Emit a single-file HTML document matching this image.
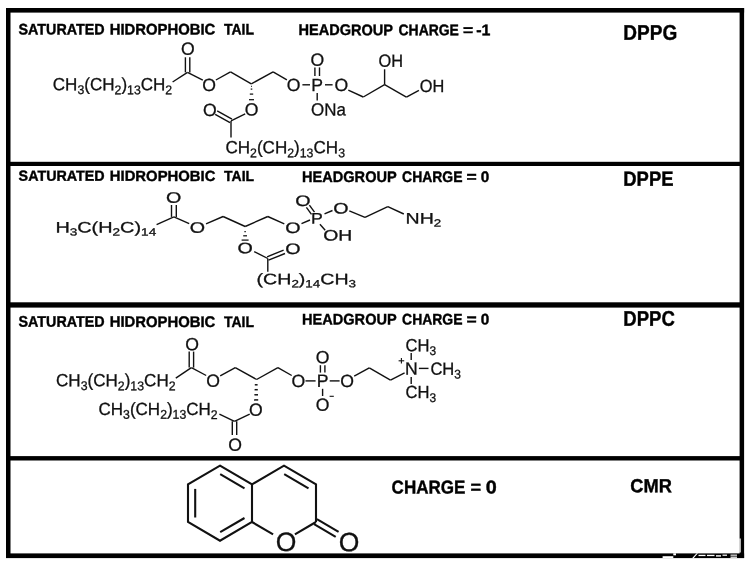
<!DOCTYPE html>
<html lang="en"><head><meta charset="utf-8"><title>Lipid structures</title>
<style>
html,body{margin:0;padding:0;background:#fff;}
svg{display:block;will-change:transform;}
text{font-family:"Liberation Sans",sans-serif;fill:#111;stroke:#111;stroke-width:0.3px;}
text.h{font-weight:bold;fill:#000;stroke:#000;stroke-width:0.4px;}
</style></head><body>
<svg width="752" height="566" viewBox="0 0 752 566">
<rect width="752" height="566" fill="#fff"/>
<g fill="#000" stroke="none">
<rect x="6" y="8" width="738.1" height="4.6"/>
<rect x="6" y="553.4" width="738.1" height="4.7"/>
<rect x="6" y="8" width="4.5" height="550"/>
<rect x="739.6" y="8" width="4.5" height="550"/>
<rect x="6" y="161.8" width="738" height="4.2"/>
<rect x="6" y="302.3" width="738" height="5.3"/>
<rect x="6" y="456.1" width="738" height="4.4"/>
</g>
<g fill="#fff" stroke="none">
<rect x="662.6" y="556.2" width="10.7" height="2"/>
<rect x="673.3" y="553.3" width="2.7" height="2"/>
<rect x="698.5" y="554.8" width="7" height="1.3"/>
<rect x="707" y="554.8" width="7.5" height="1.3"/>
<rect x="716" y="555.2" width="5" height="1.4"/>
<rect x="722.5" y="554.6" width="4.5" height="1.2"/>
<rect x="730.5" y="554.6" width="6.5" height="1.1"/>
<rect x="730.5" y="556.6" width="6.5" height="1.2"/>
<rect x="739.4" y="538.5" width="1.3" height="14"/>
<polygon points="692,558.2 696.6,553.3 698,553.3 693.6,558.2"/>
</g>
<text class="h" y="34.4" font-size="15.3" transform="rotate(0.04 19.0 34.4)"><tspan x="18.5" textLength="86.1" lengthAdjust="spacingAndGlyphs">SATURATED</tspan> <tspan x="109.7" textLength="105.6" lengthAdjust="spacingAndGlyphs">HIDROPHOBIC</tspan> <tspan x="224.0" textLength="30.0" lengthAdjust="spacingAndGlyphs">TAIL</tspan></text>
<text class="h" y="35.1" font-size="15.5" transform="rotate(0.04 299.0 35.1)"><tspan x="298.5" textLength="94.3" lengthAdjust="spacingAndGlyphs">HEADGROUP</tspan> <tspan x="398.5" textLength="60.4" lengthAdjust="spacingAndGlyphs">CHARGE</tspan> <tspan x="463.0" textLength="10.2" lengthAdjust="spacingAndGlyphs">=</tspan> <tspan x="476.3" textLength="14.2" lengthAdjust="spacingAndGlyphs">-1</tspan></text>
<text class="h" y="39.7" font-size="21.2" transform="rotate(0.04 623.9 39.7)"><tspan x="623.3" textLength="53.9" lengthAdjust="spacingAndGlyphs">DPPG</tspan></text>
<text class="h" y="180.8" font-size="14.7" transform="rotate(0.04 19.0 180.8)"><tspan x="18.6" textLength="86.1" lengthAdjust="spacingAndGlyphs">SATURATED</tspan> <tspan x="109.8" textLength="105.6" lengthAdjust="spacingAndGlyphs">HIDROPHOBIC</tspan> <tspan x="224.1" textLength="30.0" lengthAdjust="spacingAndGlyphs">TAIL</tspan></text>
<text class="h" y="182.0" font-size="15.3" transform="rotate(0.04 302.6 182.0)"><tspan x="302.1" textLength="94.3" lengthAdjust="spacingAndGlyphs">HEADGROUP</tspan> <tspan x="402.1" textLength="60.4" lengthAdjust="spacingAndGlyphs">CHARGE</tspan> <tspan x="466.6" textLength="10.2" lengthAdjust="spacingAndGlyphs">=</tspan> <tspan x="480.7" textLength="8.5" lengthAdjust="spacingAndGlyphs">0</tspan></text>
<text class="h" y="185.7" font-size="20.6" transform="rotate(0.04 623.9 185.7)"><tspan x="623.3" textLength="50.2" lengthAdjust="spacingAndGlyphs">DPPE</tspan></text>
<text class="h" y="326.8" font-size="15.4" transform="rotate(0.04 19.0 326.8)"><tspan x="18.5" textLength="86.1" lengthAdjust="spacingAndGlyphs">SATURATED</tspan> <tspan x="109.7" textLength="105.6" lengthAdjust="spacingAndGlyphs">HIDROPHOBIC</tspan> <tspan x="224.0" textLength="30.0" lengthAdjust="spacingAndGlyphs">TAIL</tspan></text>
<text class="h" y="324.4" font-size="15.4" transform="rotate(0.04 302.6 324.4)"><tspan x="302.1" textLength="94.3" lengthAdjust="spacingAndGlyphs">HEADGROUP</tspan> <tspan x="402.1" textLength="60.4" lengthAdjust="spacingAndGlyphs">CHARGE</tspan> <tspan x="466.6" textLength="10.2" lengthAdjust="spacingAndGlyphs">=</tspan> <tspan x="480.7" textLength="8.5" lengthAdjust="spacingAndGlyphs">0</tspan></text>
<text class="h" y="325.7" font-size="21.2" transform="rotate(0.04 623.9 325.7)"><tspan x="623.3" textLength="51.6" lengthAdjust="spacingAndGlyphs">DPPC</tspan></text>
<text class="h" y="493.4" font-size="18.6" transform="rotate(0.04 392.2 493.4)"><tspan x="391.6" textLength="73.7" lengthAdjust="spacingAndGlyphs">CHARGE</tspan> <tspan x="470.6" textLength="10.6" lengthAdjust="spacingAndGlyphs">=</tspan> <tspan x="485.7" textLength="11.0" lengthAdjust="spacingAndGlyphs">0</tspan></text>
<text class="h" y="492.2" font-size="18.9" transform="rotate(0.04 630.9 492.2)"><tspan x="630.3" textLength="41.5" lengthAdjust="spacingAndGlyphs">CMR</tspan></text>
<g stroke="#111" stroke-linecap="butt" fill="none">
<text class="c" x="52.8" y="90.2" font-size="17.6" text-anchor="start" textLength="119.4" lengthAdjust="spacingAndGlyphs" transform="rotate(0.04 52.8 90.2)">CH<tspan font-size="12.7" dy="3.9">3</tspan><tspan dy="-3.9">(CH</tspan><tspan font-size="12.7" dy="3.9">2</tspan><tspan dy="-3.9">)</tspan><tspan font-size="12.7" dy="3.9">13</tspan><tspan dy="-3.9">CH</tspan><tspan font-size="12.7" dy="3.9">2</tspan></text>
<line x1="172.6" y1="82.0" x2="187.5" y2="72.4" stroke-width="1.4"/>
<line x1="189.8" y1="72.4" x2="189.8" y2="57.3" stroke-width="1.4"/>
<line x1="185.4" y1="72.4" x2="185.4" y2="57.3" stroke-width="1.4"/>
<text class="c" x="187.9" y="54.7" font-size="17.6" text-anchor="middle" transform="rotate(0.04 187.9 54.7)">O</text>
<line x1="187.5" y1="72.4" x2="202.8" y2="80.2" stroke-width="1.4"/>
<text class="c" x="209.2" y="91.1" font-size="17.6" text-anchor="middle" transform="rotate(0.04 209.2 91.1)">O</text>
<line x1="215.9" y1="80.0" x2="230.5" y2="71.9" stroke-width="1.4"/>
<line x1="230.5" y1="71.9" x2="251.3" y2="83.9" stroke-width="1.4"/>
<line x1="251.3" y1="83.9" x2="273.1" y2="71.9" stroke-width="1.4"/>
<line x1="273.1" y1="71.9" x2="286.9" y2="79.9" stroke-width="1.4"/>
<text class="c" x="293.6" y="90.9" font-size="17.6" text-anchor="middle" transform="rotate(0.04 293.6 90.9)">O</text>
<line x1="302.4" y1="84.8" x2="310.0" y2="84.8" stroke-width="1.4"/>
<text class="c" x="317.2" y="90.9" font-size="17.6" text-anchor="middle" transform="rotate(0.04 317.2 90.9)">P</text>
<line x1="325.0" y1="84.8" x2="332.6" y2="84.8" stroke-width="1.4"/>
<text class="c" x="341.3" y="90.9" font-size="17.6" text-anchor="middle" transform="rotate(0.04 341.3 90.9)">O</text>
<line x1="314.9" y1="67.4" x2="314.9" y2="76.0" stroke-width="1.4"/>
<line x1="319.5" y1="67.4" x2="319.5" y2="76.0" stroke-width="1.4"/>
<text class="c" x="317.4" y="65.8" font-size="17.6" text-anchor="middle" transform="rotate(0.04 317.4 65.8)">O</text>
<line x1="317.2" y1="93.1" x2="317.2" y2="100.4" stroke-width="1.4"/>
<text class="c" x="311.0" y="115.5" font-size="17.6" text-anchor="start" textLength="34.8" lengthAdjust="spacingAndGlyphs" transform="rotate(0.04 311.0 115.5)">ONa</text>
<line x1="348.3" y1="90.2" x2="363.3" y2="97.0" stroke-width="1.4"/>
<line x1="363.3" y1="97.0" x2="384.6" y2="84.7" stroke-width="1.4"/>
<line x1="384.6" y1="84.7" x2="384.6" y2="69.3" stroke-width="1.4"/>
<text class="c" x="378.5" y="66.8" font-size="17.6" text-anchor="start" textLength="24.5" lengthAdjust="spacingAndGlyphs" transform="rotate(0.04 378.5 66.8)">OH</text>
<line x1="384.6" y1="84.7" x2="406.4" y2="97.2" stroke-width="1.4"/>
<line x1="406.4" y1="97.2" x2="418.9" y2="90.3" stroke-width="1.4"/>
<text class="c" x="419.7" y="92.0" font-size="17.6" text-anchor="start" textLength="24.5" lengthAdjust="spacingAndGlyphs" transform="rotate(0.04 419.7 92.0)">OH</text>
<line x1="251.1" y1="86.4" x2="251.9" y2="86.4" stroke-width="1.25"/>
<line x1="250.7" y1="89.1" x2="252.3" y2="89.1" stroke-width="1.25"/>
<line x1="249.8" y1="94.1" x2="253.2" y2="94.1" stroke-width="1.25"/>
<line x1="249.0" y1="99.7" x2="254.0" y2="99.7" stroke-width="1.25"/>
<text class="c" x="251.5" y="115.6" font-size="17.6" text-anchor="middle" transform="rotate(0.04 251.5 115.6)">O</text>
<line x1="245.2" y1="113.9" x2="231.0" y2="120.9" stroke-width="1.4"/>
<line x1="232.0" y1="119.1" x2="217.2" y2="110.8" stroke-width="1.4"/>
<line x1="230.0" y1="122.7" x2="215.2" y2="114.4" stroke-width="1.4"/>
<text class="c" x="209.9" y="116.0" font-size="17.6" text-anchor="middle" transform="rotate(0.04 209.9 116.0)">O</text>
<line x1="231.0" y1="120.9" x2="231.0" y2="137.4" stroke-width="1.4"/>
<text class="c" x="225.4" y="153.3" font-size="17.6" text-anchor="start" textLength="119.6" lengthAdjust="spacingAndGlyphs" transform="rotate(0.04 225.4 153.3)">CH<tspan font-size="12.7" dy="3.9">2</tspan><tspan dy="-3.9">(CH</tspan><tspan font-size="12.7" dy="3.9">2</tspan><tspan dy="-3.9">)</tspan><tspan font-size="12.7" dy="3.9">13</tspan><tspan dy="-3.9">CH</tspan><tspan font-size="12.7" dy="3.9">3</tspan></text>
<text class="c" x="55.4" y="232.4" font-size="15.2" text-anchor="start" textLength="100.8" lengthAdjust="spacingAndGlyphs" transform="rotate(0.04 55.4 232.4)">H<tspan font-size="10.4" dy="3">3</tspan><tspan dy="-3">C(H</tspan><tspan font-size="10.4" dy="3">2</tspan><tspan dy="-3">C)</tspan><tspan font-size="10.4" dy="3">14</tspan></text>
<line x1="156.6" y1="224.6" x2="173.9" y2="216.9" stroke-width="1.4"/>
<line x1="176.3" y1="216.9" x2="176.3" y2="205.0" stroke-width="1.4"/>
<line x1="171.5" y1="216.9" x2="171.5" y2="205.0" stroke-width="1.4"/>
<text class="c" x="173.7" y="202.7" font-size="15.2" text-anchor="middle" textLength="15.3" lengthAdjust="spacingAndGlyphs" transform="rotate(0.04 173.7 202.7)">O</text>
<line x1="173.9" y1="216.9" x2="189.2" y2="223.7" stroke-width="1.4"/>
<text class="c" x="197.5" y="232.8" font-size="15.2" text-anchor="middle" textLength="15.3" lengthAdjust="spacingAndGlyphs" transform="rotate(0.04 197.5 232.8)">O</text>
<line x1="206.0" y1="223.9" x2="223.1" y2="216.5" stroke-width="1.4"/>
<line x1="223.1" y1="216.5" x2="245.2" y2="226.5" stroke-width="1.4"/>
<line x1="245.2" y1="226.5" x2="267.8" y2="216.5" stroke-width="1.4"/>
<line x1="267.8" y1="216.5" x2="284.3" y2="223.9" stroke-width="1.4"/>
<text class="c" x="293.0" y="233.0" font-size="15.2" text-anchor="middle" textLength="15.3" lengthAdjust="spacingAndGlyphs" transform="rotate(0.04 293.0 233.0)">O</text>
<line x1="301.5" y1="223.7" x2="310.0" y2="220.0" stroke-width="1.4"/>
<text class="c" x="316.9" y="223.5" font-size="15.2" text-anchor="middle" textLength="11.8" lengthAdjust="spacingAndGlyphs" transform="rotate(0.04 316.9 223.5)">P</text>
<line x1="314.5" y1="212.1" x2="309.4" y2="205.1" stroke-width="1.4"/>
<line x1="311.5" y1="214.3" x2="306.4" y2="207.3" stroke-width="1.4"/>
<text class="c" x="303.0" y="206.0" font-size="15.2" text-anchor="middle" textLength="15.3" lengthAdjust="spacingAndGlyphs" transform="rotate(0.04 303.0 206.0)">O</text>
<line x1="324.5" y1="213.8" x2="332.5" y2="210.5" stroke-width="1.4"/>
<text class="c" x="340.8" y="213.4" font-size="15.2" text-anchor="middle" textLength="15.3" lengthAdjust="spacingAndGlyphs" transform="rotate(0.04 340.8 213.4)">O</text>
<line x1="319.9" y1="224.2" x2="325.2" y2="230.2" stroke-width="1.4"/>
<text class="c" x="323.3" y="240.5" font-size="15.2" text-anchor="start" textLength="29.0" lengthAdjust="spacingAndGlyphs" transform="rotate(0.04 323.3 240.5)">OH</text>
<line x1="349.3" y1="210.8" x2="365.0" y2="217.4" stroke-width="1.4"/>
<line x1="365.0" y1="217.4" x2="387.8" y2="206.6" stroke-width="1.4"/>
<line x1="387.8" y1="206.6" x2="403.8" y2="214.0" stroke-width="1.4"/>
<text class="c" x="405.6" y="223.4" font-size="15.2" text-anchor="start" textLength="35.6" lengthAdjust="spacingAndGlyphs" transform="rotate(0.04 405.6 223.4)">NH<tspan font-size="10.4" dy="3">2</tspan></text>
<line x1="244.4" y1="231.5" x2="245.8" y2="231.5" stroke-width="1.25"/>
<line x1="243.2" y1="235.8" x2="247.0" y2="235.8" stroke-width="1.25"/>
<line x1="241.6" y1="240.1" x2="248.6" y2="240.1" stroke-width="1.25"/>
<text class="c" x="245.1" y="253.3" font-size="15.2" text-anchor="middle" textLength="15.3" lengthAdjust="spacingAndGlyphs" transform="rotate(0.04 245.1 253.3)">O</text>
<line x1="254.2" y1="251.6" x2="267.8" y2="258.5" stroke-width="1.4"/>
<line x1="268.5" y1="260.2" x2="285.0" y2="253.5" stroke-width="1.4"/>
<line x1="267.1" y1="256.8" x2="283.6" y2="250.1" stroke-width="1.4"/>
<text class="c" x="293.0" y="254.0" font-size="15.2" text-anchor="middle" textLength="15.3" lengthAdjust="spacingAndGlyphs" transform="rotate(0.04 293.0 254.0)">O</text>
<line x1="267.8" y1="258.5" x2="267.8" y2="271.8" stroke-width="1.4"/>
<text class="c" x="256.6" y="284.3" font-size="15.2" text-anchor="start" textLength="99.4" lengthAdjust="spacingAndGlyphs" transform="rotate(0.04 256.6 284.3)">(CH<tspan font-size="10.4" dy="3">2</tspan><tspan dy="-3">)</tspan><tspan font-size="10.4" dy="3">14</tspan><tspan dy="-3">CH</tspan><tspan font-size="10.4" dy="3">3</tspan></text>
<text class="c" x="56.0" y="386.2" font-size="17.6" text-anchor="start" textLength="119.6" lengthAdjust="spacingAndGlyphs" transform="rotate(0.04 56.0 386.2)">CH<tspan font-size="12.7" dy="3.9">3</tspan><tspan dy="-3.9">(CH</tspan><tspan font-size="12.7" dy="3.9">2</tspan><tspan dy="-3.9">)</tspan><tspan font-size="12.7" dy="3.9">13</tspan><tspan dy="-3.9">CH</tspan><tspan font-size="12.7" dy="3.9">2</tspan></text>
<line x1="175.8" y1="378.2" x2="191.4" y2="367.6" stroke-width="1.4"/>
<line x1="193.6" y1="367.6" x2="193.6" y2="351.6" stroke-width="1.4"/>
<line x1="189.2" y1="367.6" x2="189.2" y2="351.6" stroke-width="1.4"/>
<text class="c" x="192.0" y="350.2" font-size="17.6" text-anchor="middle" transform="rotate(0.04 192.0 350.2)">O</text>
<line x1="191.4" y1="367.6" x2="206.2" y2="375.5" stroke-width="1.4"/>
<text class="c" x="213.0" y="386.8" font-size="17.6" text-anchor="middle" transform="rotate(0.04 213.0 386.8)">O</text>
<line x1="220.2" y1="375.8" x2="235.3" y2="367.6" stroke-width="1.4"/>
<line x1="235.3" y1="367.6" x2="256.6" y2="379.5" stroke-width="1.4"/>
<line x1="256.6" y1="379.5" x2="277.9" y2="367.6" stroke-width="1.4"/>
<line x1="277.9" y1="367.6" x2="291.7" y2="375.5" stroke-width="1.4"/>
<text class="c" x="298.4" y="387.0" font-size="17.6" text-anchor="middle" transform="rotate(0.04 298.4 387.0)">O</text>
<line x1="305.5" y1="380.9" x2="315.6" y2="380.9" stroke-width="1.4"/>
<text class="c" x="322.6" y="386.8" font-size="17.6" text-anchor="middle" transform="rotate(0.04 322.6 386.8)">P</text>
<line x1="329.7" y1="380.9" x2="339.6" y2="380.9" stroke-width="1.4"/>
<text class="c" x="347.0" y="387.0" font-size="17.6" text-anchor="middle" transform="rotate(0.04 347.0 387.0)">O</text>
<line x1="320.4" y1="365.2" x2="320.4" y2="372.6" stroke-width="1.4"/>
<line x1="324.9" y1="365.2" x2="324.9" y2="372.6" stroke-width="1.4"/>
<text class="c" x="322.6" y="363.3" font-size="17.6" text-anchor="middle" transform="rotate(0.04 322.6 363.3)">O</text>
<line x1="322.6" y1="388.8" x2="322.6" y2="396.0" stroke-width="1.4"/>
<text class="c" x="322.6" y="410.7" font-size="17.6" text-anchor="middle" transform="rotate(0.04 322.6 410.7)">O</text>
<line x1="329.6" y1="396.3" x2="333.8" y2="396.3" stroke-width="1.1"/>
<line x1="354.2" y1="376.1" x2="369.3" y2="367.8" stroke-width="1.4"/>
<line x1="369.3" y1="367.8" x2="390.5" y2="380.1" stroke-width="1.4"/>
<line x1="390.5" y1="380.1" x2="404.6" y2="372.9" stroke-width="1.4"/>
<text class="c" x="411.3" y="374.5" font-size="17.6" text-anchor="middle" transform="rotate(0.04 411.3 374.5)">N</text>
<line x1="398.6" y1="360.8" x2="404.2" y2="360.8" stroke-width="1.1"/>
<line x1="401.4" y1="358.0" x2="401.4" y2="363.6" stroke-width="1.1"/>
<line x1="411.2" y1="352.9" x2="411.2" y2="360.1" stroke-width="1.4"/>
<text class="c" x="405.6" y="351.2" font-size="17.6" text-anchor="start" textLength="30.6" lengthAdjust="spacingAndGlyphs" transform="rotate(0.04 405.6 351.2)">CH<tspan font-size="12.7" dy="3.9">3</tspan></text>
<line x1="418.9" y1="368.4" x2="428.5" y2="368.4" stroke-width="1.4"/>
<text class="c" x="430.4" y="374.7" font-size="17.6" text-anchor="start" textLength="30.6" lengthAdjust="spacingAndGlyphs" transform="rotate(0.04 430.4 374.7)">CH<tspan font-size="12.7" dy="3.9">3</tspan></text>
<line x1="411.2" y1="376.9" x2="411.2" y2="384.0" stroke-width="1.4"/>
<text class="c" x="405.6" y="398.1" font-size="17.6" text-anchor="start" textLength="30.6" lengthAdjust="spacingAndGlyphs" transform="rotate(0.04 405.6 398.1)">CH<tspan font-size="12.7" dy="3.9">3</tspan></text>
<line x1="254.8" y1="384.8" x2="257.6" y2="384.8" stroke-width="1.5"/>
<line x1="254.6" y1="389.7" x2="257.8" y2="389.7" stroke-width="1.5"/>
<line x1="254.4" y1="394.8" x2="258.0" y2="394.8" stroke-width="1.5"/>
<line x1="254.1" y1="399.9" x2="258.2" y2="399.9" stroke-width="1.5"/>
<text class="c" x="255.9" y="415.7" font-size="17.6" text-anchor="middle" transform="rotate(0.04 255.9 415.7)">O</text>
<line x1="249.7" y1="414.1" x2="234.5" y2="421.3" stroke-width="1.4"/>
<line x1="232.3" y1="421.3" x2="232.3" y2="434.9" stroke-width="1.4"/>
<line x1="236.7" y1="421.3" x2="236.7" y2="434.9" stroke-width="1.4"/>
<text class="c" x="235.0" y="450.8" font-size="17.6" text-anchor="middle" transform="rotate(0.04 235.0 450.8)">O</text>
<text class="c" x="98.5" y="414.9" font-size="17.6" text-anchor="start" textLength="119.2" lengthAdjust="spacingAndGlyphs" transform="rotate(0.04 98.5 414.9)">CH<tspan font-size="12.7" dy="3.9">3</tspan><tspan dy="-3.9">(CH</tspan><tspan font-size="12.7" dy="3.9">2</tspan><tspan dy="-3.9">)</tspan><tspan font-size="12.7" dy="3.9">13</tspan><tspan dy="-3.9">CH</tspan><tspan font-size="12.7" dy="3.9">2</tspan></text>
<line x1="219.4" y1="414.1" x2="234.5" y2="421.3" stroke-width="1.4"/>
<polyline points="220.0,465.7 252.0,484.4 252.0,522.0 220.0,540.7 188.0,522.0 188.0,484.4 220.0,465.7 252.0,484.4" stroke-width="2.1" stroke-linejoin="miter"/>
<line x1="195.2" y1="488.9" x2="195.2" y2="517.5" stroke-width="2.1"/>
<line x1="220.2" y1="474.2" x2="244.5" y2="488.4" stroke-width="2.1"/>
<line x1="220.2" y1="532.2" x2="244.5" y2="518.0" stroke-width="2.1"/>
<polyline points="252.0,484.4 284.0,465.7 316.0,484.4 316.0,522.0" stroke-width="2.1" stroke-linejoin="miter"/>
<line x1="284.2" y1="474.2" x2="308.5" y2="488.4" stroke-width="2.1"/>
<line x1="252.0" y1="522.0" x2="273.1" y2="534.3" stroke-width="2.1"/>
<line x1="316.0" y1="522.0" x2="294.9" y2="534.3" stroke-width="2.1"/>
<line x1="316.9" y1="519.2" x2="338.6" y2="531.9" stroke-width="2.1"/>
<line x1="314.1" y1="524.1" x2="335.7" y2="536.8" stroke-width="2.1"/>
<text class="c" x="286.0" y="550.9" font-size="26.5" text-anchor="middle" transform="rotate(0.04 286.0 550.9)">O</text>
<text class="c" x="349.1" y="551.2" font-size="26.5" text-anchor="middle" transform="rotate(0.04 349.1 551.2)">O</text>
</g>
</svg>
</body></html>
